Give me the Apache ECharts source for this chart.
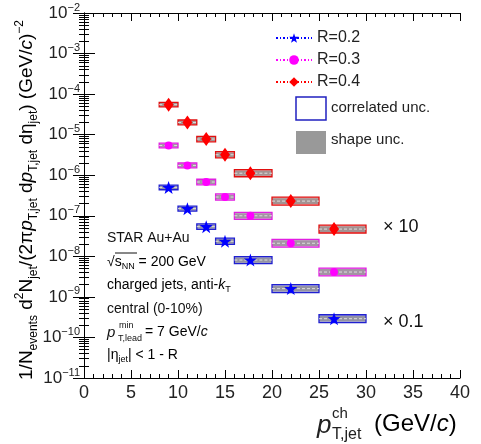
<!DOCTYPE html>
<html>
<head>
<meta charset="utf-8">
<script src="https://cdn.jsdelivr.net/npm/echarts@6/dist/echarts.min.js"></script>
<style>
  html, body { margin: 0; padding: 0; background: #fff; }
  #chart { width: 481px; height: 444px; }
</style>
</head>
<body>
<div id="chart"></div>
<script>
// jet pT bins (GeV/c) and point positions
var binLo = [8, 10, 12, 14, 16, 20, 25];
var binHi = [10, 12, 14, 16, 20, 25, 30];
var ptX = [9, 11, 13, 15, 17.7, 22, 26.6];

// spectra (R=0.4 scaled x10, R=0.2 scaled x0.1)
var yR02 = [5.0e-7, 1.5e-7, 5.4e-8, 2.35e-8, 8.1e-9, 1.6e-9, 2.9e-10];
var yR03 = [5.4e-6, 1.74e-6, 6.8e-7, 2.9e-7, 1.0e-7, 2.1e-8, 4.1e-9];
var yR04 = [5.5e-5, 2.0e-5, 7.8e-6, 3.2e-6, 1.12e-6, 2.3e-7, 4.7e-8];

// relative uncertainties
var corrUnc = [0.14, 0.15, 0.17, 0.19, 0.22, 0.25, 0.25];
var shapeUnc = [0.1, 0.11, 0.12, 0.14, 0.16, 0.18, 0.18];

var FONT = 'Liberation Sans, Arial, sans-serif';
var STAR = 'path://M0,-10L2.35,-3.24L9.51,-3.09L3.8,1.24L5.88,8.09L0,4L-5.88,8.09L-3.8,1.24L-9.51,-3.09L-2.35,-3.24Z';

function lineData(ys) {
  var out = [];
  ys.forEach(function (y, i) {
    out.push({ value: [binLo[i], y], symbol: 'none' });
    out.push({ value: [ptX[i], y] });
    out.push({ value: [binHi[i], y], symbol: 'none' });
    out.push({ value: [binHi[i], '-'] });
  });
  return out;
}

function boxData(ys) {
  return ys.map(function (y, i) {
    return [binLo[i], binHi[i], y, corrUnc[i], shapeUnc[i]];
  });
}

function boxSeries(ys, color) {
  return {
    type: 'custom',
    data: boxData(ys),
    z: 2,
    silent: true,
    renderItem: function (params, api) {
      var x0 = api.value(0), x1 = api.value(1), y = api.value(2);
      var ec = api.value(3), es = api.value(4);
      var a = api.coord([x0, y * (1 + ec)]);
      var b = api.coord([x1, y / (1 + ec)]);
      var c = api.coord([x0, y * (1 + es)]);
      var d = api.coord([x1, y / (1 + es)]);
      return {
        type: 'group',
        children: [
          { type: 'rect', shape: { x: a[0], y: a[1], width: b[0] - a[0], height: b[1] - a[1] },
            style: { fill: color, opacity: 0.35, stroke: null } },
          { type: 'rect', shape: { x: c[0], y: c[1], width: d[0] - c[0], height: d[1] - c[1] },
            style: { fill: '#8a8a8a', opacity: 0.75 } },
          { type: 'rect', shape: { x: a[0], y: a[1], width: b[0] - a[0], height: b[1] - a[1] },
            style: { fill: 'none', stroke: color, lineWidth: 1.3 } }
        ]
      };
    }
  };
}

function lineSeries(name, ys, color, symbol, size) {
  return {
    name: name,
    type: 'line',
    data: lineData(ys),
    symbol: symbol,
    symbolSize: size,
    connectNulls: false,
    z: 3,
    itemStyle: { color: color },
    lineStyle: { color: '#dddddd', width: 1, type: [3, 2] }
  };
}

var yLabelRich = {
  b: { fontSize: 17, fontFamily: FONT, color: '#222', lineHeight: 22 },
  s: { fontSize: 11, fontFamily: FONT, color: '#222', lineHeight: 11, verticalAlign: 'top' }
};

var chart = echarts.init(document.getElementById('chart'));
var option = {
  animation: false,
  grid: { left: 84, right: 21, top: 13, bottom: 66 },
  legend: {
    orient: 'vertical',
    left: 270,
    top: 25,
    itemWidth: 36,
    itemHeight: 12,
    itemGap: 6,
    textStyle: { fontSize: 16, fontFamily: FONT, color: '#222' },
    data: [
      { name: 'R=0.2', lineStyle: { color: '#0000ff', type: [2, 2, 1, 2] } },
      { name: 'R=0.3', lineStyle: { color: '#ff00ff', type: [2, 2, 1, 2] } },
      { name: 'R=0.4', lineStyle: { color: '#ff0000', type: [2, 2, 1, 2] } }
    ]
  },
  xAxis: [{
    type: 'value', min: 0, max: 40, interval: 5,
    axisLine: { show: true, lineStyle: { color: '#000', width: 1 } },
    axisTick: { inside: true, length: 8, lineStyle: { color: '#000' } },
    minorTick: { show: true, splitNumber: 5, length: 4, lineStyle: { color: '#000' } },
    splitLine: { show: false },
    axisLabel: { fontSize: 18, fontFamily: FONT, color: '#222', margin: 6 }
  }, {
    type: 'value', min: 0, max: 40, interval: 5, position: 'top',
    axisLine: { show: true, lineStyle: { color: '#000', width: 1 } },
    axisTick: { inside: true, length: 8, lineStyle: { color: '#000' } },
    minorTick: { show: true, splitNumber: 5, length: 4, lineStyle: { color: '#000' } },
    splitLine: { show: false },
    axisLabel: { show: false }
  }],
  yAxis: [{
    type: 'log', logBase: 10, min: 1e-11, max: 1e-2, splitNumber: 9,
    axisLine: { show: true, lineStyle: { color: '#000', width: 1 } },
    axisTick: { inside: true, length: 11, lineStyle: { color: '#000' } },
    minorTick: { show: true, splitNumber: 9, length: 5, lineStyle: { color: '#000' } },
    splitLine: { show: false },
    axisLabel: {
      margin: 4,
      formatter: function (v) {
        var e = Math.round(Math.log10(v));
        return '{b|10}{s|\u2212' + (-e) + '}';
      },
      rich: yLabelRich
    }
  }, {
    type: 'log', logBase: 10, min: 1e-11, max: 1e-2, splitNumber: 9, position: 'right',
    axisLine: { show: true, lineStyle: { color: '#000', width: 1 } },
    axisTick: { inside: true, length: 11, lineStyle: { color: '#000' } },
    minorTick: { show: true, splitNumber: 9, length: 5, lineStyle: { color: '#000' } },
    splitLine: { show: false },
    axisLabel: { show: false }
  }],
  series: [
    boxSeries(yR04, '#e01010'),
    boxSeries(yR03, '#e020e0'),
    boxSeries(yR02, '#2020d0'),
    lineSeries('R=0.2', yR02, '#0000ff', STAR, 13),
    lineSeries('R=0.3', yR03, '#ff00ff', 'circle', 8),
    lineSeries('R=0.4', yR04, '#ff0000', 'diamond', [10, 14])
  ],
  graphic: [
    // y-axis title
    {
      type: 'text', x: 27, y: 200, rotation: Math.PI / 2,
      style: {
        text: '{m|1/N}{d|events}{m| d}{u|2}{m|N}{d|jet}{m|/(2\u03c0}{i|p}{d|T,jet}{m| d}{i|p}{d|T,jet}{m| d\u03b7}{d|jet}{m|) (GeV/}{i|c}{m|)}{u|\u22122}',
        align: 'center', verticalAlign: 'middle',
        rich: {
          m: { fontSize: 19, fontFamily: FONT, color: '#222', lineHeight: 26 },
          i: { fontSize: 19, fontFamily: FONT, fontStyle: 'italic', color: '#222', lineHeight: 26 },
          d: { fontSize: 12, fontFamily: FONT, color: '#222', lineHeight: 12, verticalAlign: 'bottom' },
          u: { fontSize: 12, fontFamily: FONT, color: '#222', lineHeight: 12, verticalAlign: 'top' }
        }
      }
    },
    // x-axis title
    { type: 'text', x: 317, y: 426, style: { text: 'p', font: 'italic 26px ' + FONT, fill: '#222', verticalAlign: 'middle' } },
    { type: 'text', x: 332, y: 414, style: { text: 'ch', font: '15px ' + FONT, fill: '#222', verticalAlign: 'middle' } },
    { type: 'text', x: 332, y: 435, style: { text: 'T,jet', font: '16px ' + FONT, fill: '#222', verticalAlign: 'middle' } },
    {
      type: 'text', x: 374, y: 424,
      style: {
        text: '{m|(GeV/}{i|c}{m|)}', verticalAlign: 'middle',
        rich: {
          m: { fontSize: 24, fontFamily: FONT, color: '#222' },
          i: { fontSize: 24, fontFamily: FONT, fontStyle: 'italic', color: '#222' }
        }
      }
    },
    // uncertainty legend
    { type: 'rect', shape: { x: 296, y: 97, width: 30, height: 23 }, style: { fill: '#fff', stroke: '#2020c0', lineWidth: 1.5 } },
    { type: 'text', x: 331, y: 108, style: { text: 'correlated unc.', font: '15px ' + FONT, fill: '#222', verticalAlign: 'middle' } },
    { type: 'rect', shape: { x: 296, y: 131, width: 30, height: 23 }, style: { fill: '#999' } },
    { type: 'text', x: 331, y: 140, style: { text: 'shape unc.', font: '15px ' + FONT, fill: '#222', verticalAlign: 'middle' } },
    // scale factors
    { type: 'text', x: 383, y: 227, style: { text: '\u00d7 10', font: '18px ' + FONT, fill: '#111', verticalAlign: 'middle' } },
    { type: 'text', x: 383, y: 322, style: { text: '\u00d7 0.1', font: '18px ' + FONT, fill: '#111', verticalAlign: 'middle' } },
    // annotations
    { type: 'text', x: 107, y: 238, style: { text: 'STAR Au+Au', font: '14px ' + FONT, fill: '#111', verticalAlign: 'middle' } },
    {
      type: 'text', x: 107, y: 262,
      style: {
        text: '{n|\u221a}{n|s}{d|NN}{n| = 200 GeV}', verticalAlign: 'middle',
        rich: {
          n: { fontSize: 14, fontFamily: FONT, color: '#111', lineHeight: 18 },
          d: { fontSize: 9, fontFamily: FONT, color: '#111', lineHeight: 9, verticalAlign: 'bottom' }
        }
      }
    },
    { type: 'line', shape: { x1: 115, y1: 253, x2: 137, y2: 253 }, style: { stroke: '#111', lineWidth: 1 } },
    {
      type: 'text', x: 107, y: 285,
      style: {
        text: '{n|charged jets, anti-}{i|k}{d|T}', verticalAlign: 'middle',
        rich: {
          n: { fontSize: 14, fontFamily: FONT, color: '#111', lineHeight: 18 },
          i: { fontSize: 14, fontFamily: FONT, fontStyle: 'italic', color: '#111', lineHeight: 18 },
          d: { fontSize: 9, fontFamily: FONT, color: '#111', lineHeight: 9, verticalAlign: 'bottom' }
        }
      }
    },
    { type: 'text', x: 107, y: 309, style: { text: 'central (0-10%)', font: '14px ' + FONT, fill: '#111', verticalAlign: 'middle' } },
    { type: 'text', x: 107, y: 333, style: { text: 'p', font: 'italic 15px ' + FONT, fill: '#111', verticalAlign: 'middle' } },
    { type: 'text', x: 119, y: 326, style: { text: 'min', font: '9px ' + FONT, fill: '#111', verticalAlign: 'middle' } },
    { type: 'text', x: 118, y: 339, style: { text: 'T,lead', font: '9px ' + FONT, fill: '#111', verticalAlign: 'middle' } },
    {
      type: 'text', x: 145, y: 332,
      style: {
        text: '{n|= 7 GeV/}{i|c}', verticalAlign: 'middle',
        rich: {
          n: { fontSize: 14, fontFamily: FONT, color: '#111' },
          i: { fontSize: 14, fontFamily: FONT, fontStyle: 'italic', color: '#111' }
        }
      }
    },
    {
      type: 'text', x: 107, y: 355,
      style: {
        text: '{n|\u007c\u03b7}{d|jet}{n|\u007c < 1 - R}', verticalAlign: 'middle',
        rich: {
          n: { fontSize: 14, fontFamily: FONT, color: '#111', lineHeight: 18 },
          d: { fontSize: 9, fontFamily: FONT, color: '#111', lineHeight: 9, verticalAlign: 'bottom' }
        }
      }
    }
  ]
};
chart.setOption(option);
</script>
</body>
</html>
